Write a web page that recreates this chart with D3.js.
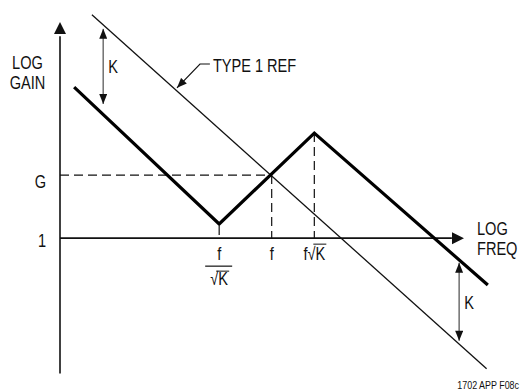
<!DOCTYPE html>
<html>
<head>
<meta charset="utf-8">
<script src="https://cdn.jsdelivr.net/npm/d3@7"></script>
<style>
  body { margin: 0; background: #fff; }
  text { font-family: "Liberation Sans", Arial, sans-serif; fill: #111; }
</style>
</head>
<body>
<div id="chart"></div>
<script>
// asymptotic gain curve (x: log freq units, y: log gain units)
const gainCurve = [[3.5, 37.4], [39.4, 3.5], [62.95, 26.0], [105.9, -11.6]];
// type 1 reference slope
const refLine = [[7.9, 55.3], [105.6, -32.3]];
const gLevel = 15.6;
const freqTicks = [39.4, 52.4, 62.95];   // f/sqrtK, f, f*sqrtK
const kArrows = [{x: 10.7, y1: 51.8, y2: 33.2}, {x: 98.8, y1: -6.1, y2: -25.4}];
const refCallout = [[37.1, 43.1], [34.65, 43.1], [28.96, 37.2]];

const width = 521, height = 392;
const squeeze = 0.81;   // condensed type look

const x = d3.scaleLinear().domain([0, 100]).range([60, 464]);
const y = d3.scaleLinear().domain([-33.5, 53.5]).range([373.5, 22]);

const svg = d3.select('#chart').append('svg')
    .attr('width', width)
    .attr('height', height);

function label(px, py, str, anchor, size) {
  return svg.append('g')
      .attr('transform', `translate(${px},${py}) scale(${squeeze},1)`)
      .append('text')
      .attr('text-anchor', anchor || 'start')
      .attr('font-size', size || 18)
      .text(str);
}

const defs = svg.append('defs');
defs.append('marker')
    .attr('id', 'kHead')
    .attr('viewBox', '0 0 10 8')
    .attr('refX', 10).attr('refY', 4)
    .attr('markerUnits', 'userSpaceOnUse')
    .attr('markerWidth', 11).attr('markerHeight', 8)
    .attr('orient', 'auto-start-reverse')
    .append('path')
    .attr('d', 'M0,0 L10,4 L0,8 Z')
    .attr('fill', '#111');

defs.append('marker')
    .attr('id', 'calloutHead')
    .attr('viewBox', '0 0 10 8')
    .attr('refX', 10).attr('refY', 4)
    .attr('markerUnits', 'userSpaceOnUse')
    .attr('markerWidth', 11).attr('markerHeight', 8)
    .attr('orient', 'auto')
    .append('path')
    .attr('d', 'M0,0 L10,4 L0,8 Z')
    .attr('fill', '#111');

const line = d3.line().x(d => x(d[0])).y(d => y(d[1]));

// axes
svg.append('line')
    .attr('x1', x(0)).attr('x2', x(0))
    .attr('y1', y(-33.5)).attr('y2', y(50))
    .attr('stroke', '#111').attr('stroke-width', 1.6);
svg.append('path')
    .attr('d', `M${x(0)},${y(53.5)} L${x(0) - 6},${y(53.5) + 12} L${x(0) + 6},${y(53.5) + 12} Z`)
    .attr('fill', '#111');

svg.append('line')
    .attr('x1', x(0)).attr('x2', x(97))
    .attr('y1', y(0)).attr('y2', y(0))
    .attr('stroke', '#111').attr('stroke-width', 1.6);
svg.append('path')
    .attr('d', `M${x(100)},${y(0)} L${x(100) - 12},${y(0) - 6} L${x(100) - 12},${y(0) + 6} Z`)
    .attr('fill', '#111');

// dashed guides
const dash = '9,5';
svg.append('line')
    .attr('x1', x(0)).attr('x2', x(freqTicks[1]))
    .attr('y1', y(gLevel)).attr('y2', y(gLevel))
    .attr('stroke', '#111').attr('stroke-width', 1.2).attr('stroke-dasharray', dash);

const guideTops = [gainCurve[1][1], gLevel, gainCurve[2][1]];
svg.selectAll('.vguide')
    .data(freqTicks)
    .enter()
    .append('line')
    .attr('class', 'vguide')
    .attr('x1', d => x(d)).attr('x2', d => x(d))
    .attr('y1', (d, i) => y(guideTops[i]))
    .attr('y2', y(0))
    .attr('stroke', '#111').attr('stroke-width', 1.2)
    .attr('stroke-dasharray', dash)
    .attr('stroke-dashoffset', (d, i) => i === 0 ? -2 : 0);

// reference line
svg.append('path')
    .attr('d', line(refLine))
    .attr('fill', 'none')
    .attr('stroke', '#111')
    .attr('stroke-width', 1.3);

// gain curve
svg.append('path')
    .attr('d', line(gainCurve))
    .attr('fill', 'none')
    .attr('stroke', '#000')
    .attr('stroke-width', 3.2)
    .attr('stroke-linejoin', 'miter');

// K arrows
svg.selectAll('.karrow')
    .data(kArrows)
    .enter()
    .append('line')
    .attr('class', 'karrow')
    .attr('x1', d => x(d.x)).attr('x2', d => x(d.x))
    .attr('y1', d => y(d.y1)).attr('y2', d => y(d.y2))
    .attr('stroke', '#777').attr('stroke-width', 1.6)
    .attr('marker-start', 'url(#kHead)')
    .attr('marker-end', 'url(#kHead)');

kArrows.forEach(d => {
  label(x(d.x) + 5, y((d.y1 + d.y2) / 2) + 7, 'K');
});

// callout
svg.append('path')
    .attr('d', line(refCallout))
    .attr('fill', 'none')
    .attr('stroke', '#111')
    .attr('stroke-width', 1.2)
    .attr('marker-end', 'url(#calloutHead)');
label(x(refCallout[0][0]) + 3, y(refCallout[0][1]) + 8, 'TYPE 1 REF');

// axis titles
label(27.5, 69, 'LOG', 'middle');
label(27.5, 89, 'GAIN', 'middle');
label(x(100) + 13, y(0) - 3, 'LOG');
label(x(100) + 13, y(0) + 17, 'FREQ');

// y tick labels
label(46, y(0) + 9, '1', 'end');
label(46, y(gLevel) + 13, 'G', 'end');

// x tick labels
const fx0 = x(freqTicks[0]);
label(fx0, y(0) + 22, 'f', 'middle');
svg.append('line')
    .attr('x1', fx0 - 14).attr('x2', fx0 + 13)
    .attr('y1', y(0) + 28).attr('y2', y(0) + 28)
    .attr('stroke', '#111').attr('stroke-width', 1.2);
label(fx0, y(0) + 47, '\u221AK', 'middle');
svg.append('line')
    .attr('x1', fx0 - 3).attr('x2', fx0 + 10)
    .attr('y1', y(0) + 33).attr('y2', y(0) + 33)
    .attr('stroke', '#111').attr('stroke-width', 1);

label(x(freqTicks[1]), y(0) + 22, 'f', 'middle');

const fx2 = x(freqTicks[2]);
label(fx2, y(0) + 22, 'f\u221AK', 'middle');
svg.append('line')
    .attr('x1', fx2 - 1).attr('x2', fx2 + 12)
    .attr('y1', y(0) + 6).attr('y2', y(0) + 6)
    .attr('stroke', '#111').attr('stroke-width', 1);

// figure id
label(519, 389, '1702 APP F08c', 'end', 11);
</script>
</body>
</html>
